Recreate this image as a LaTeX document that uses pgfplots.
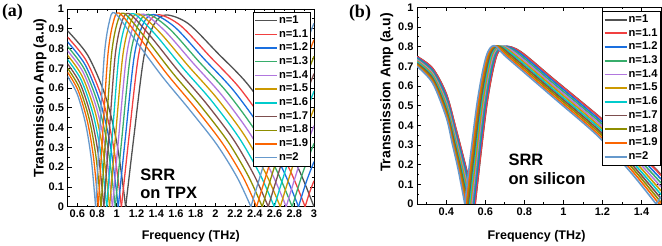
\documentclass[border=0pt]{standalone}
\usepackage{fontspec}
\setmainfont{Liberation Sans}
\newfontfamily\serifb{Liberation Serif}
\usepackage{pgfplots}
\pgfplotsset{compat=1.18}
\definecolor{c1}{HTML}{515151}
\definecolor{c2}{HTML}{F14040}
\definecolor{c3}{HTML}{1A6FDF}
\definecolor{c4}{HTML}{37AD6B}
\definecolor{c5}{HTML}{B177DE}
\definecolor{c6}{HTML}{CC9900}
\definecolor{c7}{HTML}{00CBCC}
\definecolor{c8}{HTML}{7D4E4E}
\definecolor{c9}{HTML}{8E8E00}
\definecolor{c10}{HTML}{FB6501}
\definecolor{c11}{HTML}{6699CC}
\pgfplotsset{
  common/.style={
    scale only axis, anchor=south west,
    tick align=inside,
    major tick length=4pt, minor tick length=2pt,
    tick style={black, line width=0.8pt},
    axis line style={line width=0.9pt},
    /pgf/number format/assume math mode=true,
    ticklabel style={font=\fontsize{11}{12}\selectfont\bfseries},
    xlabel style={font=\fontsize{12.5}{14}\selectfont\bfseries},
    ylabel style={font=\fontsize{14}{16}\selectfont\bfseries},
    ymin=0, ymax=1,
    ytick={0,0.1,0.2,0.3,0.4,0.5,0.6,0.7,0.8,0.9,1},
    minor ytick={0.05,0.15,0.25,0.35,0.45,0.55,0.65,0.75,0.85,0.95},
    legend cell align=left,
    legend style={draw=black, line width=0.6pt, fill=white,
      font=\fontsize{11.2}{12}\selectfont\bfseries, anchor=north east,
      row sep=0pt, inner xsep=1.2pt, inner ysep=1.5pt,
      nodes={inner xsep=1.2pt, inner ysep=1.6pt, text height=8pt, text depth=2.5pt}},
  },
  la/.style={line width=1.3pt, smooth, no marks},
  lb/.style={line width=1.6pt, smooth, no marks},
}
\begin{document}
\begin{tikzpicture}
\path[use as bounding box] (0,0) rectangle (662pt,246pt);
%%%%%%%%%%%%%%%% panel (a)
\begin{axis}[common, at={(67.5pt,39.3pt)}, width=246.5pt, height=197.7pt,
  xmin=0.5, xmax=3,
  xtick={0.6,0.8,1,1.2,1.4,1.6,1.8,2,2.2,2.4,2.6,2.8,3},
  minor xtick={0.7,0.9,1.1,1.3,1.5,1.7,1.9,2.1,2.3,2.5,2.7,2.9},
  xlabel={Frequency (THz)}, ylabel={Transmission Amp (a.u)},
  xlabel style={at={(axis description cs:0.5,-0.148)}, anchor=center},
  ylabel style={at={(axis description cs:-0.112,0.55)}, anchor=center},
  legend image code/.code={\draw[#1, line width=1.4pt] (0pt,0pt) -- (22pt,0pt);},
  legend style={at={(rel axis cs:0.9866,0.985)}}]
% n=1
\addplot[c1, la, forget plot] coordinates {(0.5,0.89)(0.7065,0.765)(0.8835,0.561)(1.0015,0.320)(1.09,0)};
\addplot[c1, la] coordinates {(1.09,0)(1.172,0.349)(1.2745,0.757)(1.377,0.922)(1.5,0.97)(1.725,0.926)(2.025,0.776)(2.325,0.621)(2.625,0.407)(2.85,0.184)(3.0,0)};
\addlegendentry{n=1}
% n=1.1
\addplot[c2, la, forget plot] coordinates {(0.5,0.858)(0.691,0.738)(0.856,0.541)(0.965,0.309)(1.047,0)};
\addplot[c2, la] coordinates {(1.047,0)(1.123,0.350)(1.218,0.757)(1.313,0.922)(1.427,0.971)(1.649,0.915)(1.946,0.759)(2.243,0.602)(2.539,0.394)(2.762,0.179)(2.910,0)};
\addlegendentry{n=1.1}
\addplot[c2, la, forget plot] coordinates {(2.910,0)(2.955,0.072)(3.0,0.131)};
% n=1.2
\addplot[c3, la, forget plot] coordinates {(0.5,0.834)(0.680,0.717)(0.835,0.525)(0.938,0.300)(1.015,0)};
\addplot[c3, la] coordinates {(1.015,0)(1.087,0.350)(1.176,0.758)(1.266,0.923)(1.373,0.972)(1.594,0.906)(1.888,0.746)(2.182,0.589)(2.476,0.385)(2.696,0.175)(2.843,0)};
\addlegendentry{n=1.2}
\addplot[c3, la, forget plot] coordinates {(2.843,0)(2.922,0.126)(3.0,0.228)};
% n=1.3
\addplot[c4, la, forget plot] coordinates {(0.5,0.811)(0.670,0.697)(0.815,0.511)(0.912,0.292)(0.985,0)};
\addplot[c4, la] coordinates {(0.985,0)(1.052,0.350)(1.136,0.759)(1.220,0.924)(1.321,0.973)(1.540,0.897)(1.831,0.735)(2.123,0.576)(2.415,0.376)(2.633,0.171)(2.779,0)};
\addlegendentry{n=1.3}
\addplot[c4, la, forget plot] coordinates {(2.779,0)(2.890,0.177)(3.0,0.320)};
% n=1.4
\addplot[c5, la, forget plot] coordinates {(0.5,0.789)(0.660,0.679)(0.796,0.497)(0.888,0.284)(0.956,0)};
\addplot[c5, la] coordinates {(0.956,0)(1.019,0.351)(1.098,0.760)(1.177,0.925)(1.271,0.974)(1.488,0.889)(1.778,0.724)(2.067,0.563)(2.356,0.366)(2.573,0.168)(2.718,0)};
\addlegendentry{n=1.4}
\addplot[c5, la, forget plot] coordinates {(2.718,0)(2.859,0.226)(3.0,0.409)};
% n=1.5
\addplot[c6, la, forget plot] coordinates {(0.5,0.767)(0.649,0.660)(0.778,0.483)(0.863,0.276)(0.927,0)};
\addplot[c6, la] coordinates {(0.927,0)(0.986,0.351)(1.060,0.761)(1.134,0.926)(1.222,0.975)(1.437,0.881)(1.725,0.712)(2.012,0.551)(2.299,0.358)(2.514,0.165)(2.658,0)};
\addlegendentry{n=1.5}
\addplot[c6, la, forget plot] coordinates {(2.658,0)(2.829,0.274)(3.0,0.496)};
% n=1.6
\addplot[c7, la, forget plot] coordinates {(0.5,0.745)(0.639,0.641)(0.759,0.469)(0.838,0.268)(0.898,0)};
\addplot[c7, la] coordinates {(0.898,0)(0.953,0.351)(1.021,0.761)(1.090,0.927)(1.172,0.976)(1.386,0.874)(1.671,0.701)(1.956,0.539)(2.241,0.348)(2.455,0.161)(2.597,0)};
\addlegendentry{n=1.6}
\addplot[c7, la, forget plot] coordinates {(2.597,0)(2.799,0.322)(3.0,0.584)};
% n=1.7
\addplot[c8, la, forget plot] coordinates {(0.5,0.723)(0.629,0.622)(0.740,0.455)(0.814,0.260)(0.869,0)};
\addplot[c8, la] coordinates {(0.869,0)(0.920,0.352)(0.983,0.762)(1.047,0.928)(1.123,0.977)(1.335,0.866)(1.618,0.690)(1.900,0.527)(2.183,0.340)(2.395,0.157)(2.536,0)};
\addlegendentry{n=1.7}
\addplot[c8, la, forget plot] coordinates {(2.536,0)(2.768,0.371)(3.0,0.673)};
% n=1.8
\addplot[c9, la, forget plot] coordinates {(0.5,0.701)(0.619,0.603)(0.721,0.442)(0.789,0.252)(0.840,0)};
\addplot[c9, la] coordinates {(0.840,0)(0.887,0.352)(0.945,0.763)(1.004,0.929)(1.074,0.978)(1.284,0.858)(1.564,0.678)(1.845,0.513)(2.125,0.331)(2.335,0.154)(2.475,0)};
\addlegendentry{n=1.8}
\addplot[c9, la, forget plot] coordinates {(2.475,0)(2.738,0.420)(3.0,0.761)};
% n=1.9
\addplot[c10, la, forget plot] coordinates {(0.5,0.681)(0.609,0.586)(0.703,0.429)(0.765,0.245)(0.812,0)};
\addplot[c10, la] coordinates {(0.812,0)(0.855,0.352)(0.909,0.764)(0.963,0.930)(1.027,0.979)(1.236,0.851)(1.514,0.668)(1.792,0.502)(2.070,0.322)(2.279,0.151)(2.418,0)};
\addlegendentry{n=1.9}
\addplot[c10, la, forget plot] coordinates {(2.418,0)(2.709,0.466)(3.0,0.844)};
% n=2
\addplot[c11, la, forget plot] coordinates {(0.5,0.66)(0.600,0.568)(0.685,0.416)(0.742,0.238)(0.785,0)};
\addplot[c11, la] coordinates {(0.785,0)(0.824,0.353)(0.873,0.764)(0.922,0.931)(0.98,0.98)(1.187,0.843)(1.463,0.657)(1.739,0.490)(2.015,0.314)(2.222,0.147)(2.36,0)};
\addlegendentry{n=2}
\addplot[c11, la, forget plot] coordinates {(2.36,0)(2.68,0.512)(3.0,0.928)};
\node[anchor=base west, font=\fontsize{16.5}{18}\selectfont\bfseries, inner sep=0pt] at (axis cs:1.237,0.135) {SRR};
\node[anchor=base west, font=\fontsize{16.5}{18}\selectfont\bfseries, inner sep=0pt] at (axis cs:1.237,0.039) {on TPX};
\end{axis}
%%%%%%%%%%%%%%%% panel (b)
\begin{axis}[common, at={(417pt,42pt)}, width=244pt, height=196.7pt,
  xmin=0.25, xmax=1.5,
  xtick={0.4,0.6,0.8,1,1.2,1.4},
  minor xtick={0.3,0.5,0.7,0.9,1.1,1.3,1.5},
  xlabel={Frequency (THz)}, ylabel={Transmission Amp (a.u)},
  xlabel style={at={(axis description cs:0.49,-0.163)}, anchor=center},
  ylabel style={at={(axis description cs:-0.124,0.567)}, anchor=center},
  legend image code/.code={\draw[#1, line width=1.8pt] (0pt,0pt) -- (22pt,0pt);},
  legend style={at={(rel axis cs:0.997,0.981)}}]
% n=1
\addplot[c1, lb, forget plot] coordinates {(0.25,0.75)(0.33,0.69)(0.40,0.56)(0.45,0.38)(0.50,0.19)(0.548,0)};
\addplot[c1, lb] coordinates {(0.548,0)(0.607,0.50)(0.655,0.745)(0.70,0.80)(0.78,0.775)(0.95,0.635)(1.18,0.447)(1.35,0.30)(1.5,0.15)};
\addlegendentry{n=1}
% n=1.1
\addplot[c2, lb, forget plot] coordinates {(0.25,0.749)(0.33,0.689)(0.40,0.558)(0.450,0.379)(0.499,0.190)(0.547,0)};
\addplot[c2, lb] coordinates {(0.547,0)(0.606,0.50)(0.654,0.745)(0.699,0.800)(0.779,0.774)(0.95,0.633)(1.18,0.445)(1.35,0.297)(1.5,0.146)};
\addlegendentry{n=1.1}
% n=1.2
\addplot[c3, lb, forget plot] coordinates {(0.25,0.744)(0.33,0.680)(0.40,0.545)(0.447,0.371)(0.495,0.189)(0.541,0)};
\addplot[c3, lb] coordinates {(0.541,0)(0.600,0.50)(0.648,0.745)(0.693,0.801)(0.771,0.771)(0.95,0.623)(1.18,0.433)(1.35,0.281)(1.5,0.127)};
\addlegendentry{n=1.2}
% n=1.3
\addplot[c4, lb, forget plot] coordinates {(0.25,0.738)(0.33,0.672)(0.40,0.531)(0.445,0.363)(0.490,0.188)(0.535,0)};
\addplot[c4, lb] coordinates {(0.535,0)(0.595,0.50)(0.643,0.745)(0.687,0.801)(0.763,0.768)(0.95,0.612)(1.18,0.422)(1.35,0.265)(1.5,0.107)};
\addlegendentry{n=1.3}
% n=1.4
\addplot[c5, lb, forget plot] coordinates {(0.25,0.733)(0.33,0.664)(0.40,0.518)(0.443,0.356)(0.486,0.187)(0.530,0)};
\addplot[c5, lb] coordinates {(0.530,0)(0.589,0.50)(0.637,0.745)(0.681,0.802)(0.756,0.765)(0.95,0.602)(1.18,0.411)(1.35,0.250)(1.5,0.087)};
\addlegendentry{n=1.4}
% n=1.5
\addplot[c6, lb, forget plot] coordinates {(0.25,0.727)(0.33,0.656)(0.40,0.505)(0.441,0.348)(0.482,0.185)(0.524,0)};
\addplot[c6, lb] coordinates {(0.524,0)(0.584,0.50)(0.631,0.745)(0.675,0.802)(0.748,0.761)(0.95,0.592)(1.18,0.399)(1.35,0.234)(1.5,0.067)};
\addlegendentry{n=1.5}
% n=1.6
\addplot[c7, lb, forget plot] coordinates {(0.25,0.722)(0.33,0.648)(0.40,0.492)(0.439,0.341)(0.477,0.184)(0.518,0)};
\addplot[c7, lb] coordinates {(0.518,0)(0.578,0.50)(0.626,0.745)(0.669,0.803)(0.741,0.758)(0.95,0.581)(1.18,0.388)(1.35,0.218)(1.5,0.048)};
\addlegendentry{n=1.6}
% n=1.7
\addplot[c8, lb, forget plot] coordinates {(0.25,0.716)(0.33,0.640)(0.40,0.479)(0.437,0.333)(0.473,0.183)(0.512,0)};
\addplot[c8, lb] coordinates {(0.512,0)(0.573,0.50)(0.620,0.745)(0.663,0.803)(0.733,0.755)(0.95,0.571)(1.18,0.376)(1.35,0.202)(1.5,0.028)};
\addlegendentry{n=1.7}
% n=1.8
\addplot[c9, lb, forget plot] coordinates {(0.25,0.711)(0.33,0.631)(0.40,0.466)(0.434,0.325)(0.469,0.182)(0.507,0)};
\addplot[c9, lb] coordinates {(0.507,0)(0.567,0.50)(0.614,0.745)(0.657,0.804)(0.725,0.752)(0.95,0.561)(1.18,0.365)(1.35,0.187)(1.5,0.008)};
\addlegendentry{n=1.8}
% n=1.9
\addplot[c10, lb, forget plot] coordinates {(0.25,0.705)(0.33,0.623)(0.40,0.453)(0.432,0.318)(0.464,0.181)(0.501,0)};
\addplot[c10, lb] coordinates {(0.501,0)(0.562,0.50)(0.609,0.745)(0.651,0.804)(0.718,0.748)(0.95,0.550)(1.18,0.353)(1.35,0.171)(1.491,0)};
\addlegendentry{n=1.9}
\addplot[c10, lb, forget plot] coordinates {(1.491,0)(1.5,0.011)};
% n=2
\addplot[c11, lb, forget plot] coordinates {(0.25,0.70)(0.33,0.615)(0.40,0.44)(0.43,0.31)(0.46,0.18)(0.495,0)};
\addplot[c11, lb] coordinates {(0.495,0)(0.556,0.50)(0.603,0.745)(0.645,0.805)(0.71,0.745)(0.95,0.54)(1.18,0.342)(1.35,0.155)(1.475,0)};
\addlegendentry{n=2}
\addplot[c11, lb, forget plot] coordinates {(1.475,0)(1.5,0.035)};
\node[anchor=base west, font=\fontsize{16.5}{18}\selectfont\bfseries, inner sep=0pt] at (axis cs:0.718,0.198) {SRR};
\node[anchor=base west, font=\fontsize{16.5}{18}\selectfont\bfseries, inner sep=0pt] at (axis cs:0.718,0.097) {on silicon};
\end{axis}
\node[font=\serifb\bfseries\fontsize{18}{20}\selectfont] at (12.5pt,234pt) {(a)};
\node[font=\serifb\bfseries\fontsize{18}{20}\selectfont] at (360pt,233pt) {(b)};
\end{tikzpicture}
\end{document}
